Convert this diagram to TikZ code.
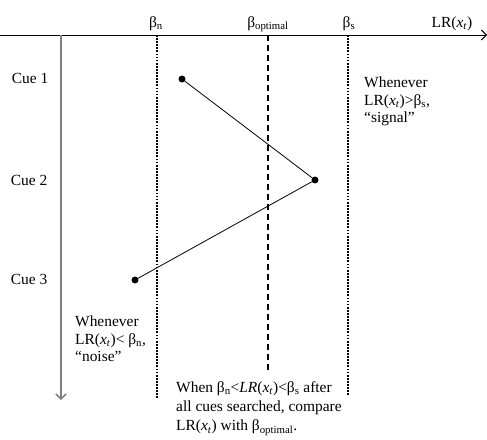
\documentclass[tikz,border=0pt]{standalone}
\usepackage{fontspec}
\setmainfont{Liberation Serif}
\usepackage{tikz}
\usetikzlibrary{arrows.meta}
\usetikzlibrary{positioning}
\tikzset{circ/.style = {fill, circle, inner sep = 0, minimum size = 7}}
\tikzset{txt/.style = {inner sep = 0, align = left, anchor = north west,
                       font = \fontsize{15.5}{17.5}\selectfont}}
\tikzset{thresh/.style = {line width = 1.8, dash pattern = on 1.8 off 1.3}}
\newcommand{\xt}{\textit{x}\textsubscript{\textit{t}}}
\newcommand{\bet}[1]{β\textsubscript{#1}}

\begin{document}
\begin{tikzpicture}[x = 1bp, y = -1bp, >={Straight Barb[length = 5, width = 10]},
                    font = \fontsize{15.5}{18}\selectfont]
    \useasboundingbox (0, 0) rectangle (487, 440);
    % axes
    \coordinate (o) at (0, 35);
    \coordinate (lr) at (487, 35);
    \coordinate (top) at (61, 35);
    \coordinate (bot) at (61, 400);
    \draw [->, line width = 0.9] (o) -- (lr);
    \draw [->, line width = 1.5, gray] (top) -- (bot);
    \node (lrlab) at (452, 24) {LR(\xt)};
    % thresholds
    \node (bn) at (156, 24) {\bet{n}};
    \node (bopt) at (268, 24) {\bet{optimal}};
    \node (bs) at (349, 24) {\bet{s}};
    \coordinate (bnend) at (157, 398);
    \coordinate (boptend) at (268, 372);
    \coordinate (bsend) at (348, 396);
    \draw [thresh] (157, 35) -- (bnend);
    \draw [line width = 1.1, dash pattern = on 6 off 4] (268, 35) -- (boptend);
    \draw [thresh] (348, 35) -- (bsend);
    % cues
    \node (c1) at (30, 78) {Cue 1};
    \node (c2) at (29, 180) {Cue 2};
    \node (c3) at (29, 279) {Cue 3};
    \node [circ] (p1) at (182, 79) {};
    \node [circ] (p2) at (315, 180) {};
    \node [circ] (p3) at (135, 280) {};
    \draw [line width = 0.8] (p1) -- (p2) -- (p3);
    % decisions
    \node [txt] (sig) at (364, 77) {Whenever\\LR(\xt)>\bet{s},\\“signal”};
    \node [txt] (noi) at (75, 316) {Whenever\\LR(\xt)< \bet{n},\\“noise”};
    \node [txt, font = \fontsize{15.5}{19.5}\selectfont] (cmp) at (176, 381)
        {When \bet{n}<\textit{LR}(\xt)<\bet{s} after\\all cues searched, compare\\LR(\xt) with \bet{optimal}.};
\end{tikzpicture}
\end{document}
